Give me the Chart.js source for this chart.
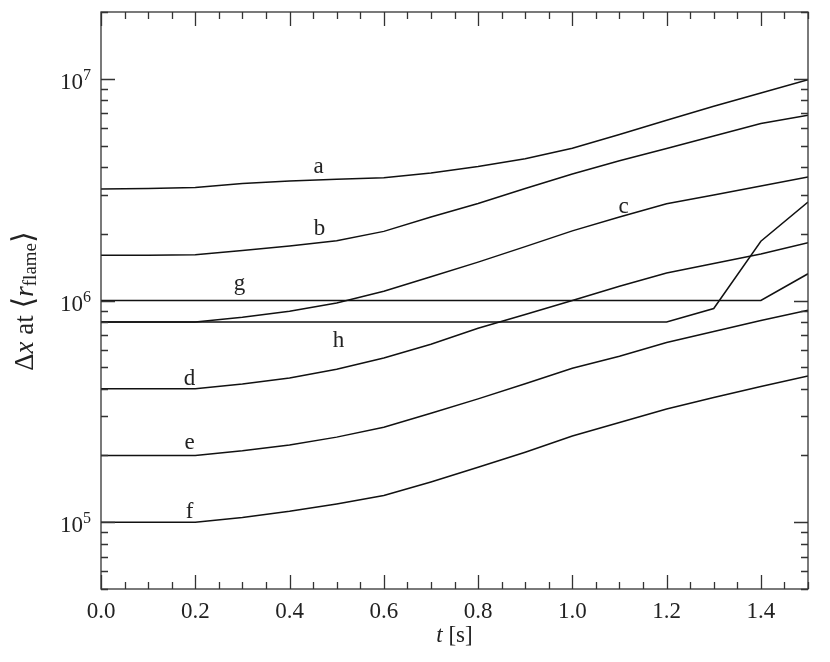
<!DOCTYPE html>
<html>
<head>
<meta charset="utf-8">
<script src="https://cdn.jsdelivr.net/npm/chart.js@4.4.1/dist/chart.umd.min.js"></script>
<style>
  body { margin: 0; background: #fff; }
  #wrap { width: 830px; height: 662px; }
</style>
</head>
<body>
<div id="wrap"><canvas id="myChart" width="830" height="662"></canvas></div>
<script>
// time samples [s]
const times = [0.0, 0.1, 0.2, 0.3, 0.4, 0.5, 0.6, 0.7, 0.8, 0.9, 1.0, 1.1, 1.2, 1.3, 1.4, 1.5];

// resolution at <r_flame> for each run
const seriesA = [3.18e6, 3.2e6, 3.23e6, 3.37e6, 3.46e6, 3.52e6, 3.58e6, 3.76e6, 4.02e6, 4.36e6, 4.86e6, 5.6e6, 6.5e6, 7.51e6, 8.63e6, 9.9e6];
const seriesB = [1.6e6, 1.6e6, 1.61e6, 1.68e6, 1.76e6, 1.86e6, 2.05e6, 2.38e6, 2.74e6, 3.2e6, 3.72e6, 4.27e6, 4.85e6, 5.52e6, 6.28e6, 6.84e6];
const seriesC = [8e5, 8e5, 8e5, 8.4e5, 8.95e5, 9.75e5, 1.1e6, 1.28e6, 1.49e6, 1.75e6, 2.06e6, 2.38e6, 2.73e6, 2.99e6, 3.28e6, 3.61e6];
const seriesD = [4e5, 4e5, 4e5, 4.2e5, 4.47e5, 4.9e5, 5.5e5, 6.35e5, 7.5e5, 8.65e5, 1.0e6, 1.16e6, 1.33e6, 1.47e6, 1.62e6, 1.82e6];
const seriesE = [2e5, 2e5, 2e5, 2.1e5, 2.23e5, 2.42e5, 2.68e5, 3.1e5, 3.6e5, 4.21e5, 4.95e5, 5.61e5, 6.46e5, 7.25e5, 8.12e5, 9.04e5];
const seriesF = [1e5, 1e5, 1e5, 1.05e5, 1.12e5, 1.21e5, 1.32e5, 1.52e5, 1.77e5, 2.07e5, 2.45e5, 2.82e5, 3.24e5, 3.65e5, 4.09e5, 4.57e5];
const seriesG = [1e6, 1e6, 1e6, 1e6, 1e6, 1e6, 1e6, 1e6, 1e6, 1e6, 1e6, 1e6, 1e6, 1e6, 1e6, 1.32e6];
const seriesH = [8e5, 8e5, 8e5, 8e5, 8e5, 8e5, 8e5, 8e5, 8e5, 8e5, 8e5, 8e5, 8e5, 9.2e5, 1.85e6, 2.78e6];

// curve names and where their letters sit (data coords, text baseline)
const curveLabels = ['a', 'b', 'c', 'd', 'e', 'f', 'g', 'h'];
const labelT = [0.4615, 0.4636, 1.1086, 0.1878, 0.1878, 0.1878, 0.294, 0.504];
const labelV = [3.74e6, 1.98e6, 2.48e6, 4.15e5, 2.14e5, 1.05e5, 1.12e6, 6.15e5];

// tick labels
const xTickValues = [0.0, 0.2, 0.4, 0.6, 0.8, 1.0, 1.2, 1.4];
const xTickLabels = ['0.0', '0.2', '0.4', '0.6', '0.8', '1.0', '1.2', '1.4'];
const yTickExponents = [5, 6, 7];

const allSeries = [seriesA, seriesB, seriesC, seriesD, seriesE, seriesF, seriesG, seriesH];
const SERIF = '"Liberation Serif", "DejaVu Serif", serif';

// frame, inside ticks, labels and axis titles
const axesPlugin = {
  id: 'axesPlugin',
  afterDraw(chart) {
    const { ctx, chartArea: a, scales } = chart;
    const xs = scales.x, ys = scales.y;
    ctx.save();
    ctx.strokeStyle = '#333';
    ctx.lineWidth = 1.3;
    ctx.strokeRect(a.left, a.top, a.right - a.left, a.bottom - a.top);

    ctx.beginPath();
    // x ticks every 0.05, major every 0.2
    for (let i = 0; i <= 30; i++) {
      const t = i * 0.05;
      const px = Math.round(xs.getPixelForValue(t)) + 0.5;
      const len = (i % 4 === 0) ? 14 : 7;
      ctx.moveTo(px, a.bottom); ctx.lineTo(px, a.bottom - len);
      ctx.moveTo(px, a.top); ctx.lineTo(px, a.top + len);
    }
    // y ticks, log decades
    for (let e = 4; e <= 7; e++) {
      for (let m = 1; m <= 9; m++) {
        const v = m * Math.pow(10, e);
        if (v < ys.min || v > ys.max) continue;
        const py = Math.round(ys.getPixelForValue(v)) + 0.5;
        const len = (m === 1) ? 14 : 7;
        ctx.moveTo(a.left, py); ctx.lineTo(a.left + len, py);
        ctx.moveTo(a.right, py); ctx.lineTo(a.right - len, py);
      }
    }
    ctx.stroke();

    ctx.fillStyle = '#222';
    // x tick labels
    ctx.font = '23px ' + SERIF;
    ctx.textAlign = 'center';
    ctx.textBaseline = 'alphabetic';
    xTickValues.forEach((t, i) => {
      ctx.fillText(xTickLabels[i], xs.getPixelForValue(t), a.bottom + 29);
    });

    // y tick labels as 10^n
    yTickExponents.forEach(e => {
      const py = ys.getPixelForValue(Math.pow(10, e));
      ctx.textAlign = 'right';
      ctx.font = '23px ' + SERIF;
      ctx.fillText('10', 83, py + 10);
      ctx.textAlign = 'left';
      ctx.font = '16px ' + SERIF;
      ctx.fillText(String(e), 83, py + 1);
    });

    // x title: t [s]
    ctx.textAlign = 'left';
    ctx.font = 'italic 23px ' + SERIF;
    const tw = ctx.measureText('t').width;
    ctx.font = '23px ' + SERIF;
    const sw = ctx.measureText(' [s]').width;
    const cx = (a.left + a.right) / 2;
    let x0 = cx - (tw + sw) / 2;
    ctx.font = 'italic 23px ' + SERIF;
    ctx.fillText('t', x0, 642);
    ctx.font = '23px ' + SERIF;
    ctx.fillText(' [s]', x0 + tw, 642);

    // y title: Δx at ⟨r_flame⟩, rotated
    const parts = [
      { s: '\u0394', f: '27px ', dy: 0 },
      { s: 'x', f: 'italic 27px ', dy: 0 },
      { s: ' at ', f: '27px ', dy: 0 },
      { s: '\u27E8', f: '30px ', dy: 0 },
      { s: 'r', f: 'italic 27px ', dy: 0 },
      { s: 'flame', f: '19px ', dy: 3 },
      { s: '\u27E9', f: '30px ', dy: 0 }
    ];
    let total = 0;
    parts.forEach(p => { ctx.font = p.f + SERIF; p.w = ctx.measureText(p.s).width; total += p.w; });
    ctx.translate(33, 301);
    ctx.rotate(-Math.PI / 2);
    let px = -total / 2;
    parts.forEach(p => {
      ctx.font = p.f + SERIF;
      ctx.fillText(p.s, px, p.dy);
      px += p.w;
    });
    ctx.restore();

    // curve letters
    ctx.save();
    ctx.fillStyle = '#222';
    ctx.font = '23px ' + SERIF;
    ctx.textAlign = 'center';
    ctx.textBaseline = 'alphabetic';
    curveLabels.forEach((name, i) => {
      ctx.fillText(name, xs.getPixelForValue(labelT[i]), ys.getPixelForValue(labelV[i]));
    });
    ctx.restore();
  }
};

const ctx = document.getElementById('myChart').getContext('2d');
new Chart(ctx, {
  type: 'line',
  data: {
    datasets: allSeries.map((s, i) => ({
      label: curveLabels[i],
      data: times.map((t, j) => ({ x: t, y: s[j] })),
      borderColor: '#111',
      borderWidth: 1.5,
      pointRadius: 0,
      tension: 0,
      fill: false
    }))
  },
  options: {
    responsive: false,
    animation: false,
    layout: { padding: { top: 12, right: 22, left: 0, bottom: 0 } },
    plugins: {
      legend: { display: false },
      tooltip: { enabled: false }
    },
    scales: {
      x: {
        type: 'linear',
        min: 0,
        max: 1.5,
        grid: { display: false },
        border: { display: false },
        ticks: { display: false },
        afterFit: (scale) => { scale.height = 73; }
      },
      y: {
        type: 'logarithmic',
        min: 5e4,
        max: 2e7,
        grid: { display: false },
        border: { display: false },
        ticks: { display: false },
        afterFit: (scale) => { scale.width = 101; }
      }
    }
  },
  plugins: [axesPlugin]
});
</script>
</body>
</html>
